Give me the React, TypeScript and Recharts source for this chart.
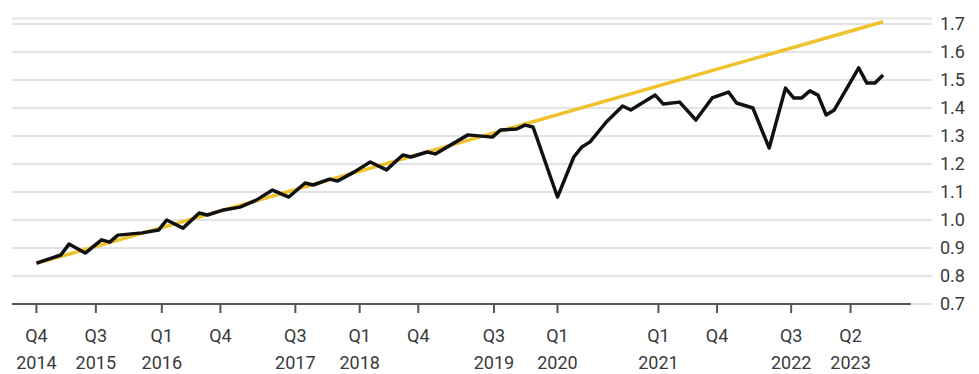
import { LineChart, Line, XAxis, YAxis, CartesianGrid, ReferenceLine } from 'recharts'

// months since the first observation, with the level read at each turning point
const actualMonths = [
  0, 3, 4, 6, 8, 9, 10, 13, 15, 16, 18, 20, 21, 23, 25, 27, 29, 31, 33, 34, 36, 37, 39, 41, 43, 45, 46,
  48, 49, 53, 56, 57, 59, 60, 61, 64, 66, 67, 68, 70, 72, 73, 76, 77, 79, 81, 83, 85, 86, 88, 90, 92,
  93, 94, 95, 96, 97, 98, 101, 102, 103, 104,
]
const actualValues = [
  0.846, 0.875, 0.914, 0.882, 0.929, 0.921, 0.946, 0.954, 0.964, 1.0, 0.971, 1.025, 1.018, 1.036, 1.046,
  1.071, 1.107, 1.082, 1.132, 1.125, 1.146, 1.139, 1.171, 1.207, 1.179, 1.232, 1.225, 1.243, 1.236, 1.304,
  1.296, 1.321, 1.325, 1.339, 1.332, 1.082, 1.225, 1.261, 1.279, 1.35, 1.407, 1.393, 1.446, 1.414, 1.421,
  1.357, 1.436, 1.457, 1.418, 1.4, 1.257, 1.471, 1.436, 1.436, 1.461, 1.446, 1.375, 1.393, 1.543, 1.489,
  1.489, 1.518,
]

// pre-pandemic trend, straight line from first to last month
const trendMonths = [0, 104]
const trendValues = [0.845, 1.708]

const tickMonths = [0, 7.3, 15.4, 22.6, 31.8, 39.7, 46.9, 56.2, 64, 76.4, 83.6, 92.7, 100]
const tickQuarters = ['Q4', 'Q3', 'Q1', 'Q4', 'Q3', 'Q1', 'Q4', 'Q3', 'Q1', 'Q1', 'Q4', 'Q3', 'Q2']
const tickYears = ['2014', '2015', '2016', '', '2017', '2018', '', '2019', '2020', '2021', '', '2022', '2023']

const yTicks = [0.7, 0.8, 0.9, 1.0, 1.1, 1.2, 1.3, 1.4, 1.5, 1.6, 1.7]

const actualData = actualMonths.map((m, i) => ({ m, value: actualValues[i] }))
const trendData = trendMonths.map((m, i) => ({ m, value: trendValues[i] }))

const FONT = 'Roboto, "Liberation Sans", Arial, sans-serif'
const LABEL_COLOR = '#3a3a3a'

const QuarterTick = (props: { x?: number; y?: number; index?: number }) => {
  const { x = 0, y = 0, index = 0 } = props
  return (
    <text x={x} y={y} textAnchor="middle" fill={LABEL_COLOR} fontSize={18} fontFamily={FONT}>
      <tspan x={x} dy={29}>{tickQuarters[index]}</tspan>
      <tspan x={x} dy={27}>{tickYears[index]}</tspan>
    </text>
  )
}

export default function App() {
  return (
    <div style={{ position: 'absolute', left: 0, top: 0, background: '#fff' }}>
      <LineChart
        width={979}
        height={374}
        margin={{ top: 18.4, right: 0, bottom: 0, left: 12 }}
        style={{ fontFamily: FONT }}
      >
        <CartesianGrid vertical={false} stroke="#e3e3e3" strokeWidth={2} />
        <XAxis
          type="number"
          dataKey="m"
          domain={[-3, 110]}
          ticks={tickMonths}
          interval={0}
          height={70}
          axisLine={false}
          tickLine={{ stroke: '#555', strokeWidth: 2 }}
          tickSize={9}
          tickMargin={0}
          tick={<QuarterTick />}
        />
        <YAxis
          orientation="right"
          type="number"
          domain={[0.7, 1.72]}
          ticks={yTicks}
          width={47}
          axisLine={false}
          tickLine={false}
          tickSize={0}
          tickMargin={8}
          tickFormatter={(v: number) => v.toFixed(1)}
          tick={{ fill: LABEL_COLOR, fontSize: 18, fontFamily: FONT, textAnchor: 'start' }}
        />
        <ReferenceLine
          segment={[
            { x: -3, y: 0.7 },
            { x: 107.4, y: 0.7 },
          ]}
          stroke="#555"
          strokeWidth={2}
        />
        <Line
          data={trendData}
          dataKey="value"
          type="linear"
          stroke="#f0c22e"
          strokeWidth={3.5}
          dot={false}
          isAnimationActive={false}
        />
        <Line
          data={actualData}
          dataKey="value"
          type="linear"
          stroke="#111"
          strokeWidth={3.5}
          strokeLinejoin="round"
          dot={false}
          isAnimationActive={false}
        />
      </LineChart>
    </div>
  )
}
